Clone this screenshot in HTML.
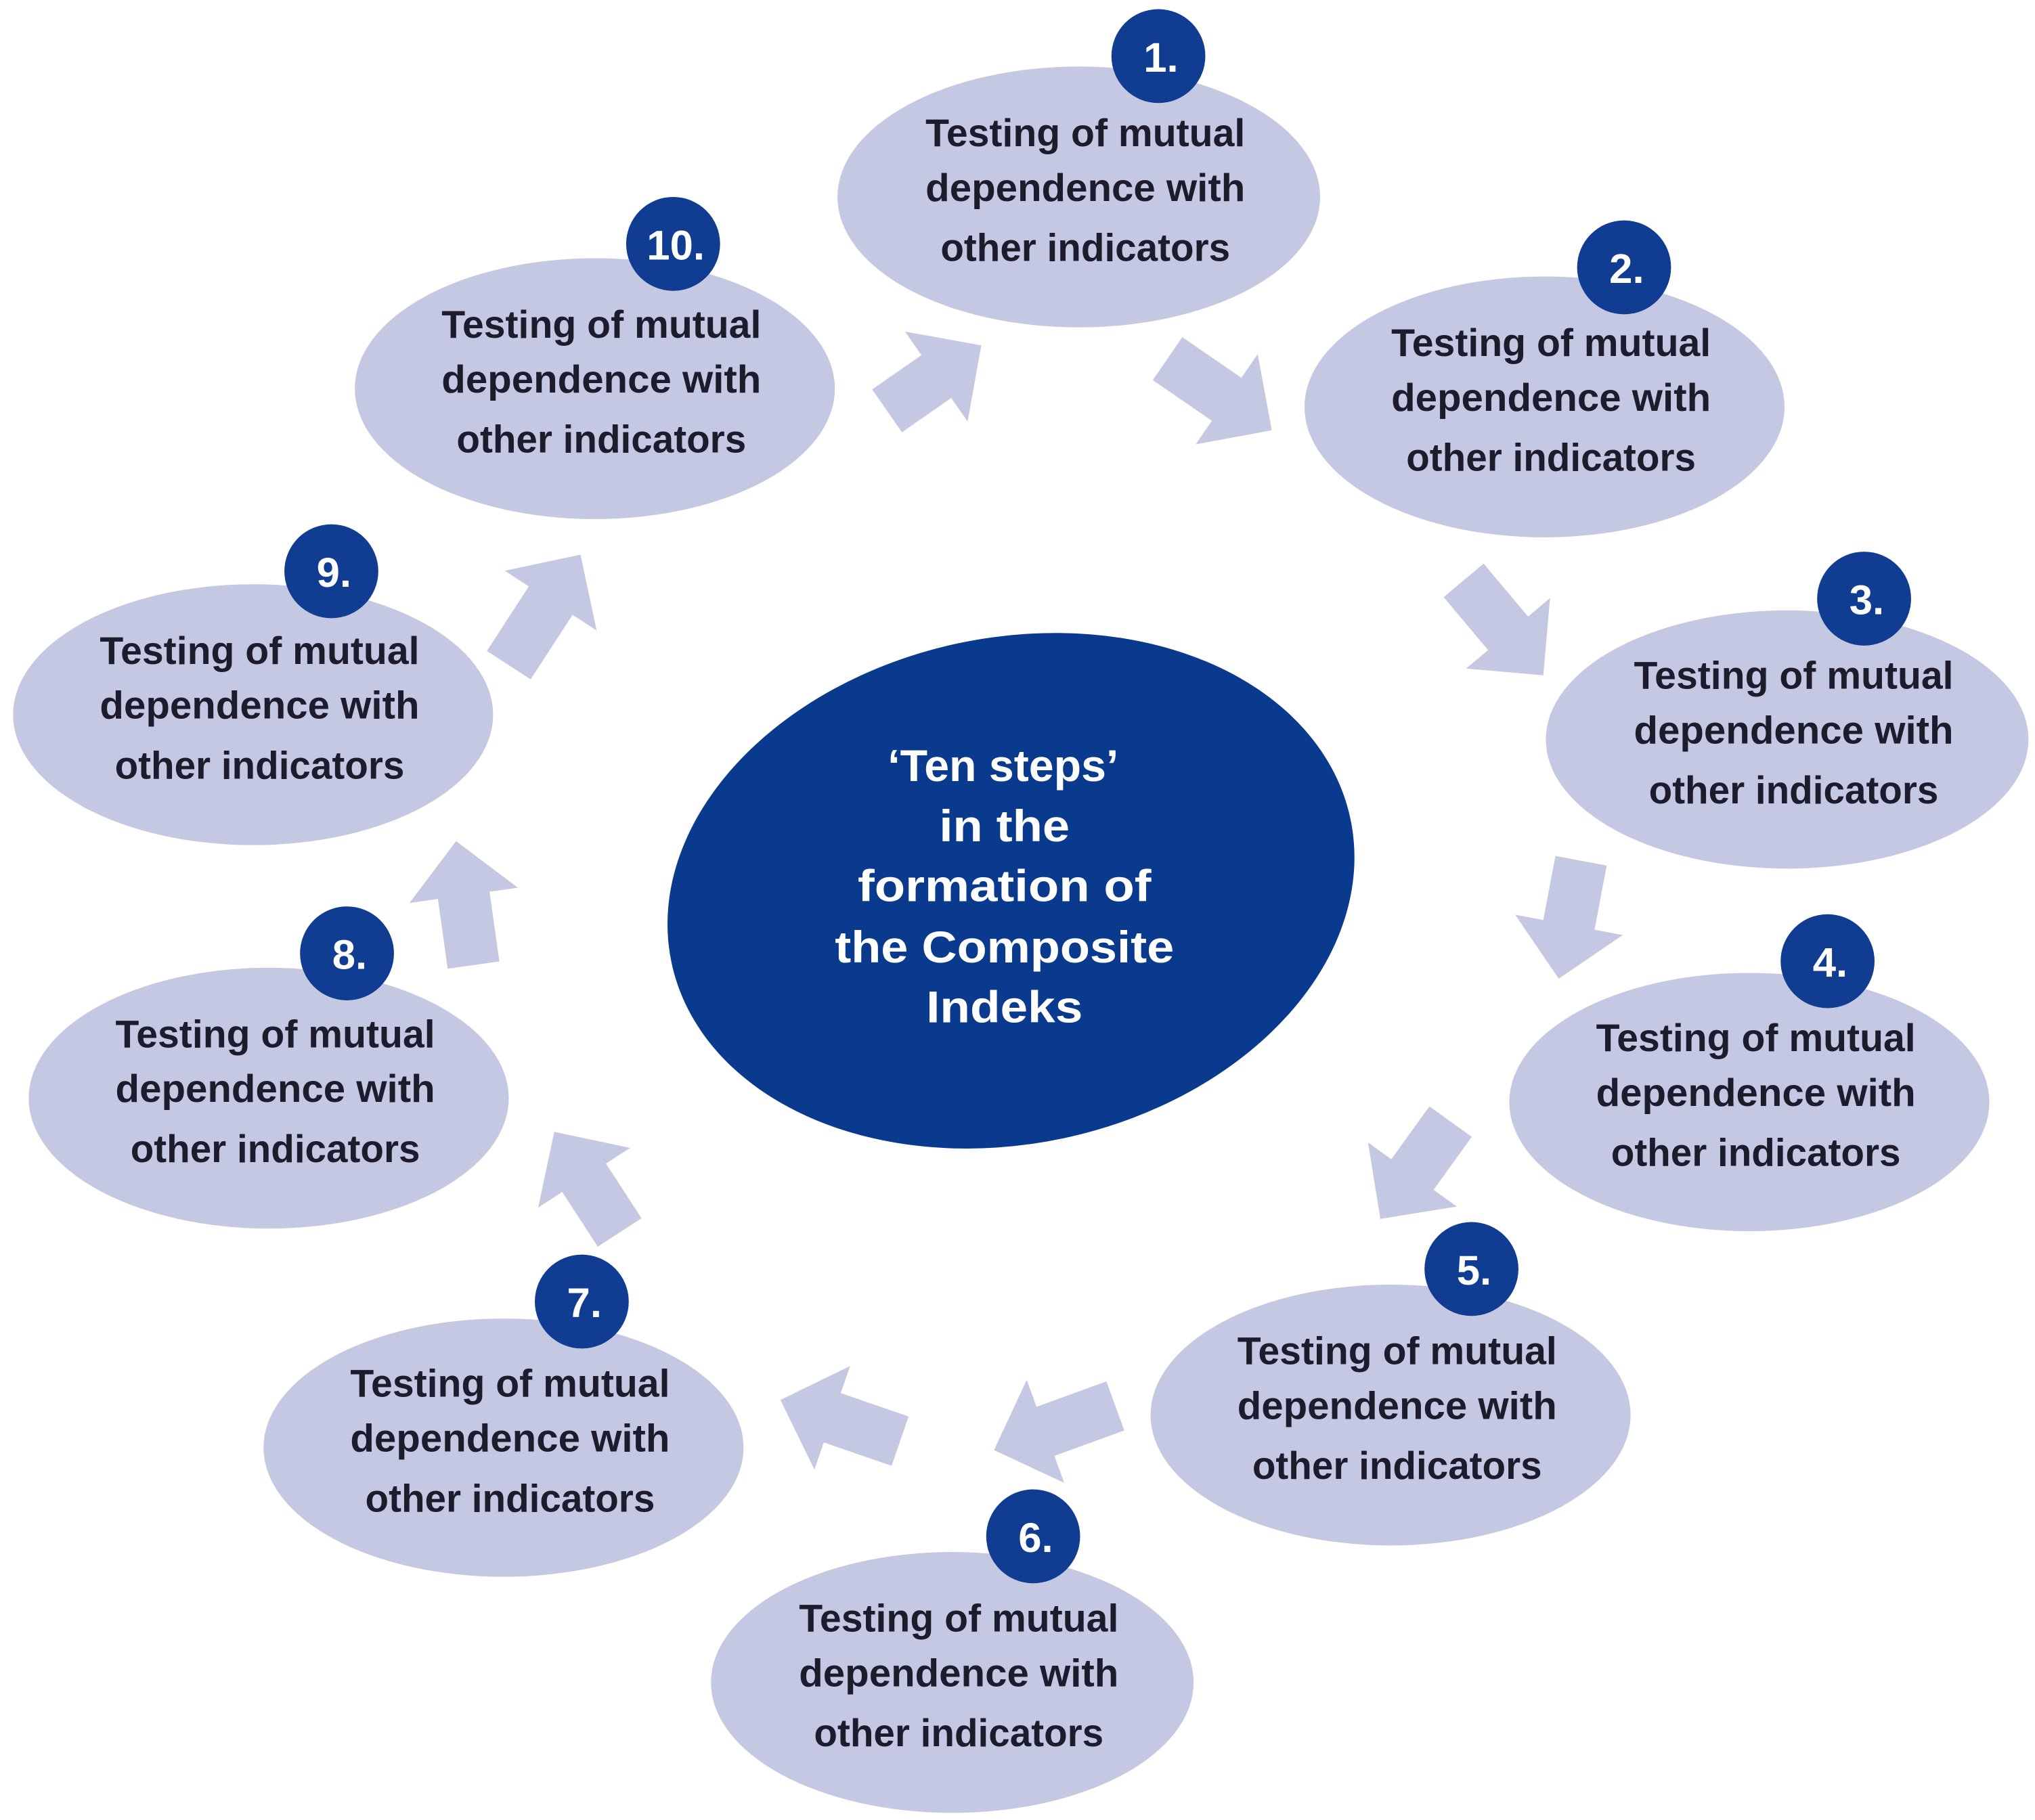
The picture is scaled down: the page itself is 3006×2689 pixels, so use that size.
<!DOCTYPE html>
<html><head><meta charset="utf-8"><style>
html,body{margin:0;padding:0;background:#fff;}
svg{display:block;}
text{font-family:"Liberation Sans",sans-serif;font-weight:bold;}
</style></head><body>
<svg width="3006" height="2689" viewBox="0 0 1560 1395.5" preserveAspectRatio="none" xmlns="http://www.w3.org/2000/svg">
<defs>
<g id="n">
<text x="5" y="-32" text-anchor="middle" font-size="30" fill="#1c1c2c" textLength="245" lengthAdjust="spacingAndGlyphs">Testing of mutual</text>
<text x="5" y="10" text-anchor="middle" font-size="30" fill="#1c1c2c" textLength="245" lengthAdjust="spacingAndGlyphs">dependence with</text>
<text x="5" y="56" text-anchor="middle" font-size="30" fill="#1c1c2c" textLength="222" lengthAdjust="spacingAndGlyphs">other indicators</text>
</g>
</defs>
<g fill="#c5c8e2">
<ellipse cx="827" cy="151" rx="185" ry="100"/>
<ellipse cx="1184" cy="312" rx="184" ry="100"/>
<ellipse cx="1370" cy="567" rx="185" ry="99"/>
<ellipse cx="1341" cy="845" rx="184" ry="99"/>
<ellipse cx="1066" cy="1085" rx="184" ry="100"/>
<ellipse cx="730" cy="1290" rx="185" ry="100"/>
<ellipse cx="386" cy="1110" rx="184" ry="99"/>
<ellipse cx="206" cy="842" rx="184" ry="100"/>
<ellipse cx="194" cy="548" rx="184" ry="100"/>
<ellipse cx="456" cy="298" rx="184" ry="100"/>
</g>
<g fill="#c5c8e2">
<polygon transform="translate(680,315) rotate(-34.8)" points="0,-20 46,-20 46,-42 88,0 46,42 46,20 0,20"/>
<polygon transform="translate(895,275) rotate(34.5)" points="0,-20 55,-20 55,-42 97,0 55,42 55,20 0,20"/>
<polygon transform="translate(1122,445) rotate(50)" points="0,-20 53,-20 53,-42 95,0 53,42 53,20 0,20"/>
<polygon transform="translate(1212,660) rotate(100.7)" points="0,-20 50,-20 50,-42 92,0 50,42 50,20 0,20"/>
<polygon transform="translate(1112,860) rotate(125.8)" points="0,-20 50,-20 50,-42 92,0 50,42 50,20 0,20"/>
<polygon transform="translate(855,1078) rotate(160)" points="0,-20 57,-20 57,-42 99,0 57,42 57,20 0,20"/>
<polygon transform="translate(690,1105) rotate(199)" points="0,-20 55,-20 55,-42 97,0 55,42 55,20 0,20"/>
<polygon transform="translate(475,945) rotate(237)" points="0,-20 50,-20 50,-42 92,0 50,42 50,20 0,20"/>
<polygon transform="translate(363,740) rotate(262)" points="0,-20 54,-20 54,-42 96,0 54,42 54,20 0,20"/>
<polygon transform="translate(390,510) rotate(303)" points="0,-20 59,-20 59,-42 101,0 59,42 59,20 0,20"/>
</g>
<use href="#n" x="827" y="144"/>
<use href="#n" x="1184" y="305"/>
<use href="#n" x="1370" y="560"/>
<use href="#n" x="1341" y="838"/>
<use href="#n" x="1066" y="1078"/>
<use href="#n" x="730" y="1283"/>
<use href="#n" x="386" y="1103"/>
<use href="#n" x="206" y="835"/>
<use href="#n" x="194" y="541"/>
<use href="#n" x="456" y="291"/>
<g fill="#103c91">
<circle cx="888" cy="43" r="36"/>
<circle cx="1245" cy="205" r="36"/>
<circle cx="1429" cy="459" r="36"/>
<circle cx="1401" cy="737" r="36"/>
<circle cx="1128" cy="973" r="36"/>
<circle cx="792" cy="1178" r="36"/>
<circle cx="446" cy="998" r="36"/>
<circle cx="266" cy="731" r="36"/>
<circle cx="254" cy="438" r="36"/>
<circle cx="516" cy="187" r="36"/>
</g>
<g fill="#fff" font-size="32" text-anchor="middle">
<text x="890" y="55">1.</text>
<text x="1247" y="217">2.</text>
<text x="1431" y="471">3.</text>
<text x="1403" y="749">4.</text>
<text x="1130" y="985">5.</text>
<text x="794" y="1190">6.</text>
<text x="448" y="1010">7.</text>
<text x="268" y="743">8.</text>
<text x="256" y="450">9.</text>
<text x="518" y="199">10.</text>
</g>
<ellipse cx="775" cy="683" rx="266" ry="194" transform="rotate(-12 775 683)" fill="#0a3a8e"/>
<g fill="#fff" font-size="34" text-anchor="middle">
<text x="769" y="599" textLength="177" lengthAdjust="spacingAndGlyphs">‘Ten steps’</text>
<text x="770" y="645" textLength="100" lengthAdjust="spacingAndGlyphs">in the</text>
<text x="770" y="691" textLength="225" lengthAdjust="spacingAndGlyphs">formation of</text>
<text x="770" y="738" textLength="260" lengthAdjust="spacingAndGlyphs">the Composite</text>
<text x="770" y="784" textLength="120" lengthAdjust="spacingAndGlyphs">Indeks</text>
</g>
</svg>
</body></html>
